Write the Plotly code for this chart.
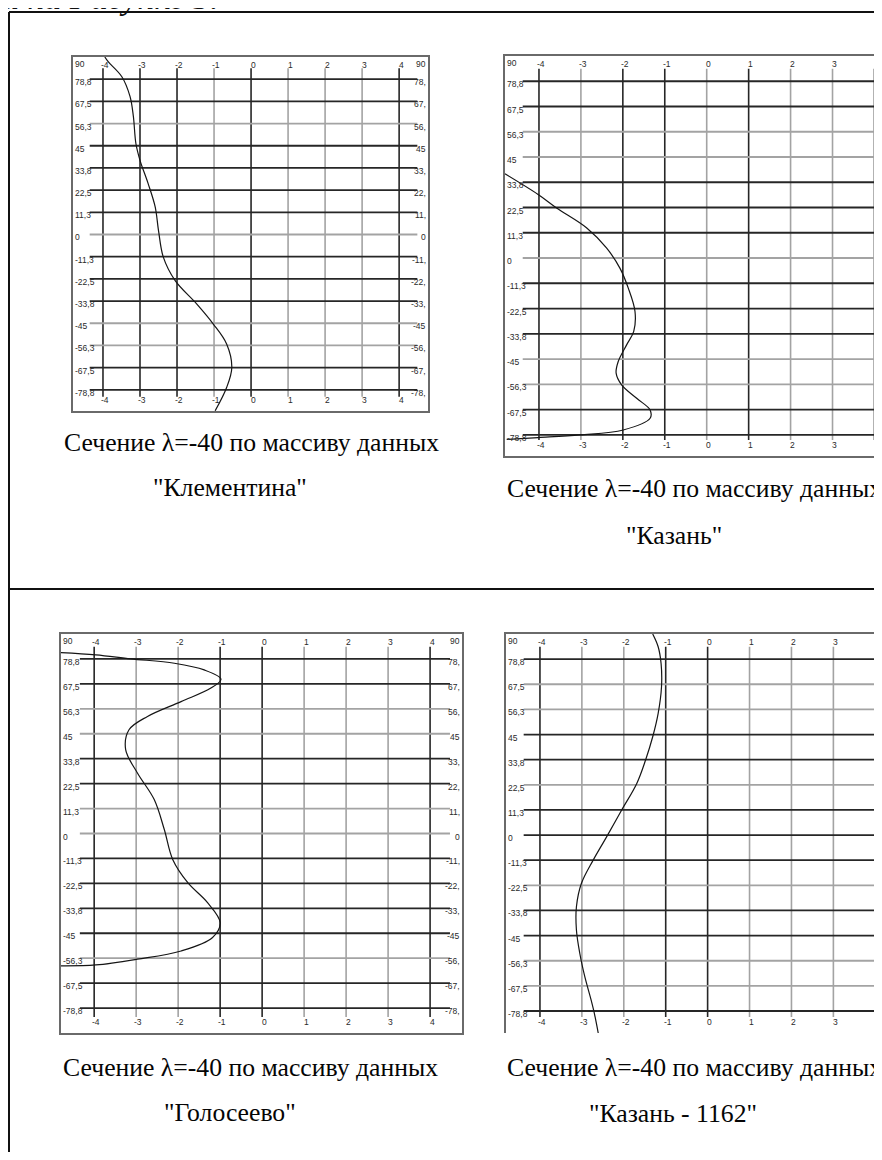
import plotly.graph_objects as go

# the page body keeps an 8 px margin, so the figure is sized to fit inside it
OFF = 8
W, H = 882 - OFF, 1160 - 2 * OFF

# axis ticks shared by all four panels
x_ticks = [-4, -3, -2, -1, 0, 1, 2, 3, 4]
x_labels = ['-4', '-3', '-2', '-1', '0', '1', '2', '3', '4']
y_ticks = [90, 78.75, 67.5, 56.25, 45, 33.75, 22.5, 11.25, 0,
           -11.25, -22.5, -33.75, -45, -56.25, -67.5, -78.75]
y_labels = ['90', '78,8', '67,5', '56,3', '45', '33,8', '22,5', '11,3', '0',
            '-11,3', '-22,5', '-33,8', '-45', '-56,3', '-67,5', '-78,8']
# right-hand labels are clipped by the frame in the scan
y_labels_cut = ['90', '78,', '67,', '56,', '45', '33,', '22,', '11,', '0',
                '-11,', '-22,', '-33,', '-45', '-56,', '-67,', '-78,']

caption = 'Сечение λ=-40 по массиву данных'
names = ['"Клементина"', '"Казань"', '"Голосеево"', '"Казань - 1162"']

# section curves: latitude (y) and value (x)
klem_lat = [90, 87.6, 80, 70, 60, 46, 37.6, 25.8, 14, 2, -11.5, -23.4,
            -35.2, -45.4, -55.5, -67.4, -77.6, -89.4]
klem_val = [-3.95, -3.86, -3.49, -3.27, -3.18, -3.11, -3.0, -2.78, -2.59, -2.5,
            -2.37, -2.05, -1.47, -1.02, -0.66, -0.52, -0.66, -0.97]

kazan_lat = [37.5, 28.3, 22.3, 13.4, 4.5, -4.5, -13.4, -23.8, -32.7, -38.7,
             -46.1, -51.3, -56.5, -62.5, -67.7, -71.4, -76.6, -78.8, -80.0, -80.8]
kazan_val = [-4.81, -4.02, -3.58, -2.86, -2.39, -2.07, -1.87, -1.71, -1.74, -1.91,
             -2.11, -2.16, -2.03, -1.67, -1.35, -1.35, -1.99, -3.02, -4.02, -4.77]

golos_lat = [81.6, 80.6, 78.8, 76.8, 73.8, 69.6, 65.6, 59.5, 52.8, 46.8, 37.8,
             27.3, 15.3, 1.8, -11.7, -22.2, -31.2, -40.2, -46.9, -53.0, -56.7,
             -59.3, -59.7]
golos_val = [-4.79, -3.96, -3.13, -2.09, -1.38, -0.98, -1.22, -1.93, -2.73, -3.17,
             -3.25, -2.97, -2.57, -2.33, -2.13, -1.77, -1.30, -1.0, -1.18, -1.93,
             -2.97, -3.96, -4.79]

k1162_lat = [90, 84.3, 76.8, 66.4, 54.5, 44.0, 33.6, 23.1, 11.2, -0.8, -11.2,
             -21.6, -32.1, -42.5, -52.9, -63.4, -73.8, -80, -88.6]
k1162_val = [-1.31, -1.18, -1.11, -1.10, -1.18, -1.31, -1.48, -1.69, -2.05, -2.41,
             -2.73, -3.01, -3.13, -3.13, -3.05, -2.93, -2.78, -2.70, -2.61]

# grid line shades as they came out in the scan (k = dark, g = light)
v_shades = ['kkkgkgggk', 'kgkkgkggk', 'kggkkgggk', 'kggkkgggk']
h_shades = ['kkgkkkkgkkkggkk', 'kkggkkkgkkkggkk', 'kkggkkggkkkkgkk', 'kggkkgkkkgkkggk']
shade = {'k': '#262626', 'g': '#a3a3a3'}


def fx(p):
    return (p - OFF) / W


def fy(p):
    return 1 - (p - OFF) / H


panels = [
    dict(lat=klem_lat, val=klem_val, box=(73, 428, 57, 411), xr=[-4.81, 4.78], yr=[-89.5, 90],
         right=True, bottom=True, cap=(62, 442), name=(230, 487)),
    dict(lat=kazan_lat, val=kazan_val, box=(505, 882, 56, 456), xr=[-4.81, 4.18], yr=[-88.2, 90],
         right=False, bottom=True, cap=(505, 489), name=(674, 535)),
    dict(lat=golos_lat, val=golos_val, box=(61, 462, 634, 1033), xr=[-4.79, 4.76], yr=[-90, 90],
         right=True, bottom=True, cap=(61, 1067), name=(230, 1112)),
    dict(lat=k1162_lat, val=k1162_val, box=(506, 882, 634, 1033), xr=[-4.81, 4.16], yr=[-88.6, 90],
         right=False, bottom=False, cap=(505, 1067), name=(673, 1113)),
]

fig = go.Figure()
shapes = []
annotations = []
tick_font = dict(family='Liberation Sans', size=8.5, color='#2a2a2a')
cap_font = dict(family='Liberation Serif', size=25.7, color='#050505')

for i, p in enumerate(panels):
    n = '' if i == 0 else str(i + 1)
    xa, ya = f'x{n}', f'y{n}'
    x0, x1, y0, y1 = p['box']
    fig.add_trace(go.Scatter(x=p['val'], y=p['lat'], mode='lines', xaxis=xa, yaxis=ya,
                             line=dict(color='#151515', width=1.2, shape='spline'),
                             showlegend=False, hoverinfo='skip'))
    fig.update_layout({
        f'xaxis{n}': dict(domain=[fx(x0), min(fx(x1), 1)], range=p['xr'], anchor=ya,
                          showgrid=False, zeroline=False, showticklabels=False, ticks='',
                          showline=True, linecolor='#6a6a6a', linewidth=1.5,
                          side='bottom' if p['bottom'] else 'top',
                          mirror=bool(p['bottom'])),
        f'yaxis{n}': dict(domain=[fy(y1), fy(y0)], range=p['yr'], anchor=xa,
                          showgrid=False, zeroline=False, showticklabels=False, ticks='',
                          showline=True, linecolor='#6a6a6a', linewidth=1.5,
                          mirror=bool(p['right'])),
    })
    h_end = 0.97 if p['right'] else 1
    for v, s in zip(x_ticks, v_shades[i]):
        shapes.append(dict(type='line', xref=xa, x0=v, x1=v, yref=f'{ya} domain', y0=0.04, y1=0.968,
                           line=dict(color=shade[s], width=1.6), layer='below'))
    for v, s in zip(y_ticks[1:], h_shades[i]):
        shapes.append(dict(type='line', xref=f'{xa} domain', x0=0.047, x1=h_end, yref=ya, y0=v, y1=v,
                           line=dict(color=shade[s], width=1.8), layer='below'))
    for v, t in zip(x_ticks, x_labels):
        annotations.append(dict(text=t, xref=xa, x=v, yref=f'{ya} domain', y=1, yanchor='top',
                                yshift=-1, xshift=2, showarrow=False, font=tick_font))
        annotations.append(dict(text=t, xref=xa, x=v, yref=f'{ya} domain', y=0, yanchor='bottom',
                                yshift=4, xshift=2, showarrow=False, font=tick_font))
    for j, (v, t) in enumerate(zip(y_ticks, y_labels)):
        top = j == 0
        annotations.append(dict(text=t, xref=f'{xa} domain', x=0, xanchor='left', xshift=0,
                                yref=ya, y=v, yanchor='top' if top else 'middle',
                                yshift=0 if top else -3, showarrow=False, font=tick_font))
        if p['right']:
            annotations.append(dict(text=y_labels_cut[j], xref=f'{xa} domain', x=1, xanchor='right',
                                    xshift=0, yref=ya, y=v, yanchor='top' if top else 'middle',
                                    yshift=0 if top else -3, showarrow=False, font=tick_font))
    cx, cy = p['cap']
    annotations.append(dict(text=caption, xref='paper', x=fx(cx), xanchor='left',
                            yref='paper', y=fy(cy), yanchor='middle', showarrow=False,
                            font=cap_font))
    nx, ny = p['name']
    annotations.append(dict(text=names[i], xref='paper', x=fx(nx), xanchor='center',
                            yref='paper', y=fy(ny), yanchor='middle', showarrow=False,
                            font=cap_font))

# page frame of the scanned document
page = dict(color='#111', width=2)
shapes += [
    dict(type='line', xref='paper', yref='paper', x0=fx(9), x1=fx(9), y0=0, y1=fy(12), line=page),
    dict(type='line', xref='paper', yref='paper', x0=fx(9), x1=1, y0=fy(12), y1=fy(12), line=page),
    dict(type='line', xref='paper', yref='paper', x0=fx(9), x1=1, y0=fy(589), y1=fy(589), line=page),
]
annotations.append(dict(text='<i>и на Рисунке 3.</i>', xref='paper', x=fx(0), xanchor='left',
                        yref='paper', y=fy(18), yanchor='bottom', showarrow=False,
                        font=dict(family='Liberation Serif', size=34, color='#111')))

fig.update_layout(width=W, height=H, margin=dict(l=0, r=0, t=0, b=0),
                  paper_bgcolor='white', plot_bgcolor='white',
                  shapes=shapes, annotations=annotations)

fig.write_html("out.html")
